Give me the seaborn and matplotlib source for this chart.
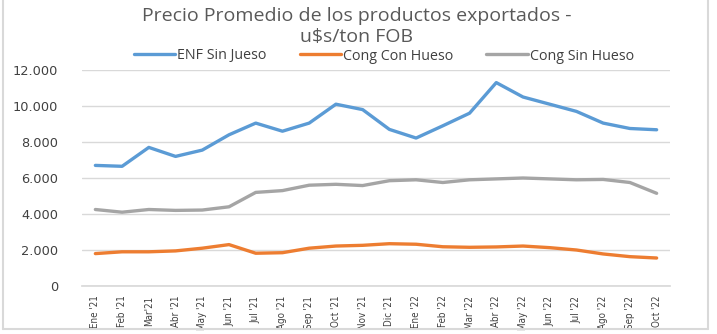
import matplotlib
matplotlib.use("Agg")
import matplotlib.pyplot as plt
import matplotlib.lines as mlines
import seaborn as sns
import pandas as pd
from matplotlib.ticker import FuncFormatter

months = ["Ene '21", "Feb '21", "Mar'21", "Abr '21", "May '21", "Jun '21", "Jul '21", "Ago '21",
          "Sep '21", "Oct '21", "Nov '21", "Dic '21", "Ene '22", "Feb '22", "Mar '22", "Abr '22",
          "May '22", "Jun '22", "Jul '22", "Ago '22", "Sep '22", "Oct '22"]
enf_sin_jueso = [6700, 6650, 7700, 7200, 7550, 8400, 9050, 8600, 9050, 10100, 9800, 8700,
                 8220, 8900, 9600, 11300, 10500, 10100, 9700, 9050, 8750, 8680]
cong_con_hueso = [1800, 1900, 1900, 1950, 2100, 2300, 1820, 1850, 2100, 2220, 2260, 2350,
                  2320, 2180, 2150, 2170, 2220, 2130, 2000, 1780, 1630, 1555]
cong_sin_hueso = [4250, 4100, 4250, 4200, 4220, 4400, 5200, 5300, 5600, 5650, 5580, 5850,
                  5900, 5750, 5900, 5950, 6000, 5950, 5900, 5920, 5750, 5150]
series_names = ["ENF Sin Jueso", "Cong Con Hueso", "Cong Sin Hueso"]
colors = ["#5b9bd5", "#ed7d31", "#a5a5a5"]
title_lines = ["Precio Promedio de los productos exportados -", "u$s/ton FOB"]

rows = []
for name, vals in zip(series_names, [enf_sin_jueso, cong_con_hueso, cong_sin_hueso]):
    for i, (m, v) in enumerate(zip(months, vals)):
        rows.append({"idx": i, "mes": m, "serie": name, "valor": v})
df = pd.DataFrame(rows)

sns.set_theme(style="white")
plt.rcParams['font.family'] = ['Open Sans', 'DejaVu Sans']

W, H = 717, 334
fig = plt.figure(figsize=(W/100, H/100), dpi=100)
ax = fig.add_axes([82/W, 1-286/H, (670-82)/W, (286-70)/H])

sns.lineplot(data=df, x="idx", y="valor", hue="serie", hue_order=series_names,
             palette=colors, linewidth=2.4, ax=ax, legend=False)

ax.set_ylim(0, 12000)
ax.set_yticks(range(0, 12001, 2000))
ax.yaxis.set_major_formatter(FuncFormatter(lambda v, p: f"{int(v):,}".replace(",", ".")))
ax.set_xlim(-0.5, len(months) - 0.5)
ax.set_xticks(range(len(months)))
ax.set_xticklabels(months, rotation=90, color="#404040", family=["DejaVu Sans"],
                   fontstretch="condensed", fontsize=7)
for lbl in ax.get_yticklabels():
    lbl.set_family(["DejaVu Sans"])
ax.tick_params(axis="y", labelsize=9.3, colors="#404040", length=0, pad=17)
ax.tick_params(axis="x", length=0, pad=7)
ax.grid(axis="y", color="#d9d9d9", linewidth=1)
ax.set_axisbelow(True)
for s in ["top", "right", "left"]:
    ax.spines[s].set_visible(False)
ax.spines["bottom"].set_color("#d9d9d9")
ax.set_xlabel("")
ax.set_ylabel("")

handles = [plt.Line2D([0], [0], color=c, linewidth=2.4) for c in colors]
fig.legend(handles, series_names, loc="center", bbox_to_anchor=(384/W, 1-56/H), ncol=3,
           frameon=False, fontsize=10.3, handlelength=2.9, columnspacing=2.3, handletextpad=0.15,
           labelcolor="#404040")

fig.text(357/W, 1-21/H, title_lines[0], ha="center", va="baseline",
         fontsize=14, color="#595959")
fig.text(357/W, 1-42/H, title_lines[1], ha="center", va="baseline",
         fontsize=14, color="#595959")

border = dict(color="#d9d9d9", linewidth=1.5, transform=fig.transFigure)
fig.add_artist(mlines.Line2D([3/W, 3/W], [1, 1-329/H], **border))
fig.add_artist(mlines.Line2D([708/W, 708/W], [1, 1-329/H], **border))
fig.add_artist(mlines.Line2D([3/W, 708/W], [1-329/H, 1-329/H], **border))

fig.savefig("out.png", dpi=100)
